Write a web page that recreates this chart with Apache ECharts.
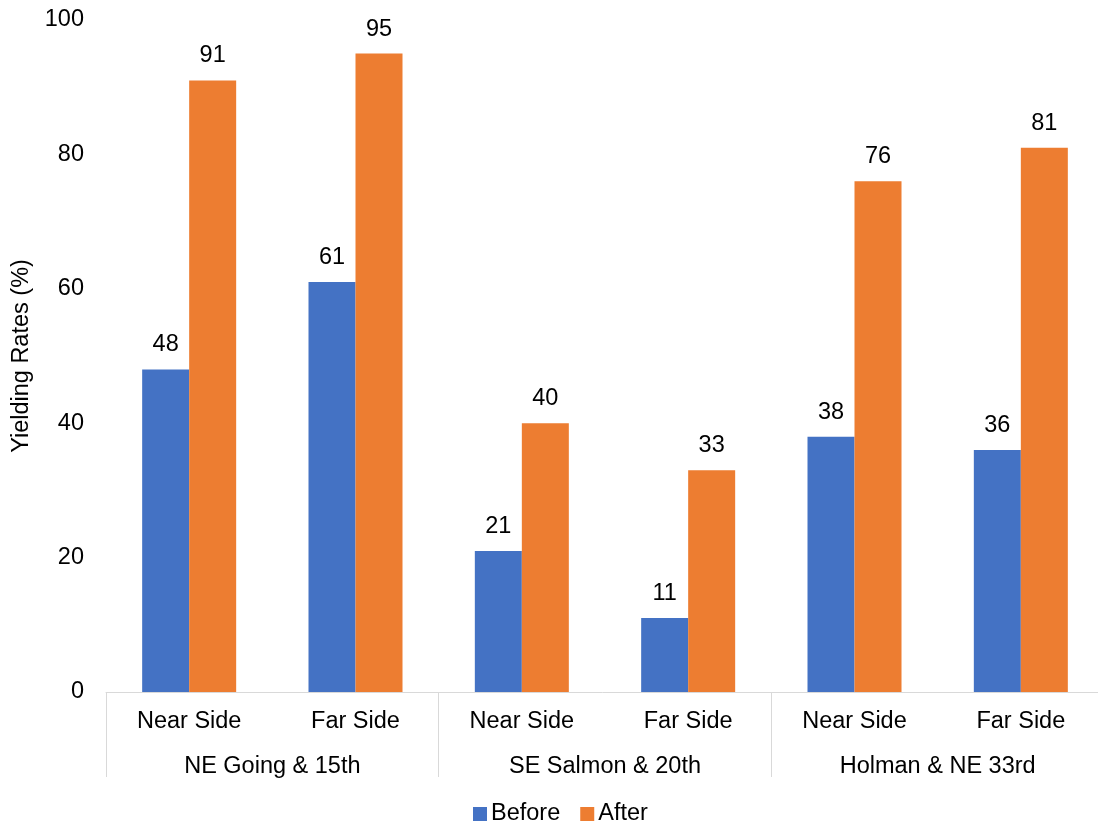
<!DOCTYPE html>
<html>
<head>
<meta charset="utf-8">
<script src="https://cdn.jsdelivr.net/npm/echarts@6/dist/echarts.min.js"></script>
<style>
  html, body { margin: 0; padding: 0; background: #fff; }
  #chart { width: 1098px; height: 824px; }
</style>
</head>
<body>
<div id="chart"></div>
<script>
var sides = ['Near Side', 'Far Side', 'Near Side', 'Far Side', 'Near Side', 'Far Side'];
var groups = ['NE Going & 15th', 'SE Salmon & 20th', 'Holman & NE 33rd'];
var before = [48, 61, 21, 11, 38, 36];
var after = [91, 95, 40, 33, 76, 81];
var yTicks = { min: 0, max: 100, interval: 20 };

var myChart = echarts.init(document.getElementById('chart'));
var font = 'Liberation Sans, Arial, sans-serif';
var fs = 23.5;

var option = {
	animation: false,
	textStyle: { fontFamily: font },
	grid: { left: 106, top: 20, width: 998, bottom: 132, outerBoundsMode: 'none' },
	legend: {
		top: 797,
		left: 468,
		itemWidth: 14,
		itemHeight: 14,
		itemGap: 20,
		icon: 'rect',
		textStyle: { fontSize: fs, color: '#000', fontFamily: font, padding: [0, 0, 0, -1] },
		data: ['Before', 'After']
	},
	xAxis: [{
		type: 'category',
		data: sides,
		axisLine: { lineStyle: { color: '#d9d9d9', width: 1 } },
		axisTick: { show: false },
		axisLabel: { fontSize: fs, color: '#000', margin: 18, fontFamily: font }
	}, {
		type: 'category',
		data: groups,
		position: 'bottom',
		axisLine: { show: false },
		axisTick: { show: true, length: 85, lineStyle: { color: '#d9d9d9' } },
		axisLabel: { fontSize: fs, color: '#000', margin: 63, fontFamily: font }
	}],
	yAxis: {
		type: 'value',
		min: yTicks.min,
		max: yTicks.max,
		interval: yTicks.interval,
		name: 'Yielding Rates (%)',
		nameLocation: 'middle',
		nameRotate: 90,
		nameGap: 70,
		nameTextStyle: { fontSize: fs, color: '#000', fontFamily: font },
		axisLine: { show: false },
		axisTick: { show: false },
		splitLine: { show: false },
		axisLabel: { fontSize: fs, color: '#000', margin: 22, fontFamily: font }
	},
	series: [{
		name: 'Before',
		type: 'bar',
		data: before,
		barWidth: 47,
		barGap: '0%',
		itemStyle: { color: '#4472C4' },
		label: { show: true, position: 'top', distance: 12.5, fontSize: fs, color: '#000', fontFamily: font }
	}, {
		name: 'After',
		type: 'bar',
		data: after,
		barWidth: 47,
		barGap: '0%',
		itemStyle: { color: '#ED7D31' },
		label: { show: true, position: 'top', distance: 12.5, fontSize: fs, color: '#000', fontFamily: font }
	}]
};
myChart.setOption(option);
</script>
</body>
</html>
